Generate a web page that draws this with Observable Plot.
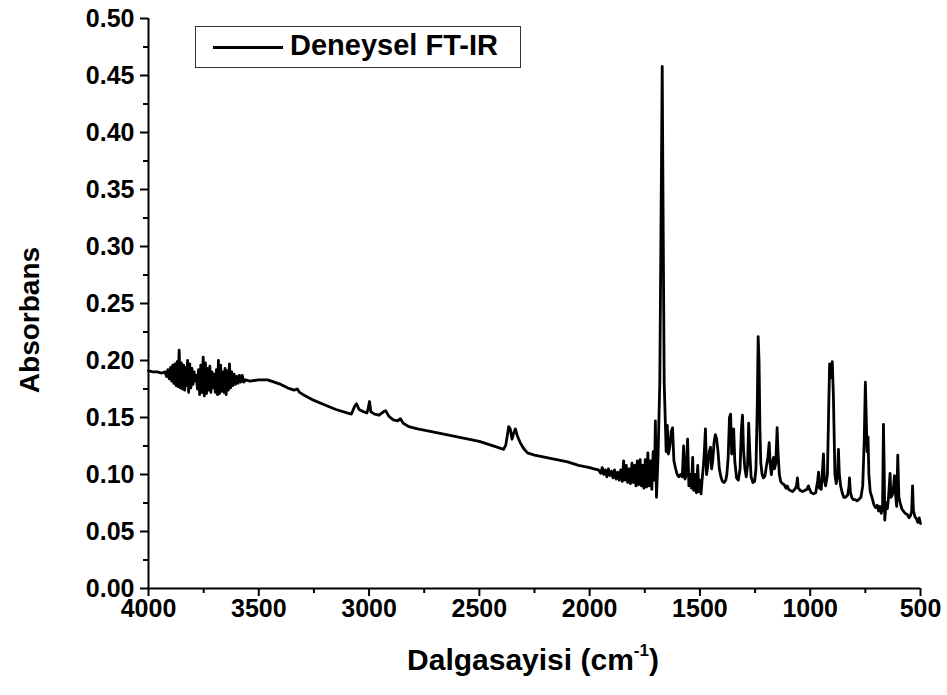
<!DOCTYPE html>
<html><head><meta charset="utf-8">
<script src="https://cdn.jsdelivr.net/npm/d3@7"></script>
<script src="https://cdn.jsdelivr.net/npm/@observablehq/plot@0.6"></script>
<style>
body{margin:0;background:#fff;}
#wrap{position:relative;width:947px;height:695px;font-family:"Liberation Sans",Arial,sans-serif;font-weight:bold;color:#000;}
#wrap svg{position:absolute;left:0;top:0;}
.xtitle{position:absolute;left:0;width:1066px;top:643px;text-align:center;font-size:30px;white-space:nowrap;}
.xtitle sup{font-size:17px;position:relative;top:-3px;}
.ytitle{position:absolute;left:30px;top:320px;font-size:28px;transform:translate(-50%,-50%) rotate(-90deg);white-space:nowrap;}
.legend{position:absolute;left:195px;top:26px;width:326px;height:42px;border:1.5px solid #333;box-sizing:border-box;}
.legend .ln{position:absolute;left:17px;top:19px;width:70px;height:0;border-top:3px solid #000;}
.legend .lt{position:absolute;left:94px;top:2px;font-size:29px;white-space:nowrap;}
</style></head><body><div id="wrap"></div>
<script>
// Tick values
const yTicks = [0, 0.05, 0.10, 0.15, 0.20, 0.25, 0.30, 0.35, 0.40, 0.45, 0.50];
const yMinor = [0.025, 0.075, 0.125, 0.175, 0.225, 0.275, 0.325, 0.375, 0.425, 0.475];
const xTicks = [4000, 3500, 3000, 2500, 2000, 1500, 1000, 500];
const xMinor = [3750, 3250, 2750, 2250, 1750, 1250, 750];

// Spectrum: [wavenumber cm-1, absorbance]
const ohRegion = [
[4000,0.191],[3980,0.190],[3960,0.190],[3940,0.189],[3925,0.190],[3918,0.186],[3912,0.192],[3906,0.184],
[3900,0.194],[3895,0.182],[3890,0.196],[3885,0.180],[3880,0.197],[3875,0.178],[3870,0.199],[3866,0.177],
[3861,0.209],[3856,0.176],[3851,0.198],[3846,0.175],[3841,0.196],[3836,0.174],[3831,0.194],[3827,0.178],
[3823,0.200],[3818,0.172],[3813,0.197],[3808,0.176],[3803,0.193],[3798,0.179],[3793,0.190],[3788,0.182],
[3783,0.187],[3778,0.175],[3773,0.192],[3768,0.170],[3763,0.196],[3758,0.172],[3752,0.203],[3747,0.169],
[3742,0.198],[3737,0.171],[3732,0.193],[3727,0.174],[3722,0.195],[3717,0.172],[3712,0.190],[3707,0.176],
[3702,0.188],[3697,0.172],[3692,0.192],[3687,0.170],[3683,0.200],[3678,0.171],[3673,0.196],[3668,0.173],
[3663,0.190],[3658,0.172],[3653,0.193],[3648,0.170],[3643,0.191],[3638,0.174],[3633,0.197],[3628,0.176],
[3623,0.190],[3618,0.178],[3612,0.188],[3606,0.179],[3600,0.186],[3594,0.180],[3588,0.187],[3582,0.181],
[3575,0.187],[3568,0.181],[3560,0.183],[3540,0.182],[3500,0.183],[3460,0.183],[3430,0.181],[3400,0.179],
[3370,0.176],[3340,0.174],[3325,0.175],[3315,0.172],[3290,0.169],[3250,0.165],[3200,0.161],[3150,0.157]
];
const chRegion = [
[3100,0.154],[3080,0.153],[3065,0.160],[3057,0.162],[3045,0.157],[3025,0.155],[3010,0.154],[3004,0.158],
[2998,0.164],[2992,0.155],[2975,0.153],[2955,0.152],[2935,0.155],[2925,0.156],[2910,0.151],[2890,0.148],
[2870,0.147],[2858,0.149],[2845,0.145],[2820,0.142],[2780,0.140],[2700,0.137],[2600,0.133],[2500,0.129],
[2420,0.124],[2390,0.122],[2380,0.126],[2367,0.142],[2360,0.140],[2352,0.131],[2345,0.136],[2337,0.140],
[2328,0.134],[2315,0.128],[2300,0.123],[2282,0.119],[2250,0.117],[2200,0.115],[2150,0.113],[2100,0.111],
[2050,0.108],[2000,0.106],[1980,0.105],[1960,0.104],[1950,0.101],[1943,0.106],[1936,0.100],[1929,0.104],
[1922,0.098],[1915,0.105],[1908,0.099],[1901,0.103],[1894,0.097],[1887,0.104],[1880,0.096],[1873,0.102],
[1866,0.095],[1859,0.104],[1852,0.094],[1846,0.112],[1840,0.095],[1834,0.108],[1828,0.093],[1822,0.105],
[1815,0.092],[1808,0.110],[1802,0.093],[1796,0.108],[1790,0.090],[1784,0.112],[1778,0.091],[1771,0.113],
[1765,0.090],[1760,0.108],[1754,0.088],[1748,0.113],[1742,0.089],[1736,0.119],[1730,0.090],[1724,0.112],
[1718,0.087],[1712,0.120],[1706,0.095]
];
const carbonylRegion = [
[1702,0.147],[1697,0.080],[1690,0.115],[1682,0.180],[1676,0.330],[1671,0.458],[1666,0.300],[1662,0.180],
[1658,0.154],[1653,0.120],[1648,0.143],[1643,0.118],[1636,0.125],[1630,0.138],[1624,0.141],[1618,0.112],
[1610,0.105],[1603,0.100],[1596,0.098],[1588,0.100],[1580,0.098],[1574,0.125],[1568,0.096],[1562,0.100],
[1556,0.131],[1550,0.090],[1544,0.100],[1538,0.088],[1533,0.115],[1528,0.086],[1522,0.100],[1516,0.084],
[1510,0.108],[1505,0.085],[1500,0.095],[1495,0.083],[1489,0.098],[1484,0.108],[1480,0.120],[1475,0.140],
[1470,0.100],[1464,0.108],[1458,0.120],[1452,0.124],[1447,0.105],[1442,0.112],[1436,0.128],[1430,0.135],
[1424,0.131],[1418,0.120],[1412,0.105],[1405,0.098],[1398,0.094],[1390,0.093],[1383,0.095],[1378,0.100],
[1372,0.115],[1366,0.150],[1361,0.153],[1356,0.118],[1351,0.128],[1347,0.140],[1342,0.112],[1334,0.097],
[1326,0.095],[1318,0.105],[1312,0.140],[1307,0.152],[1302,0.120],[1296,0.105],[1290,0.098],[1284,0.108],
[1279,0.145],[1274,0.120],[1268,0.098],[1260,0.093],[1252,0.094],[1246,0.105],[1240,0.160],[1236,0.221],
[1232,0.200],[1228,0.140],[1224,0.110],[1218,0.100],[1212,0.097],[1205,0.099],[1198,0.108],[1192,0.115],
[1186,0.128],[1182,0.110],[1176,0.100],[1170,0.112],[1166,0.115],[1162,0.105],[1156,0.110],[1150,0.141],
[1146,0.120],[1140,0.100],[1134,0.094],[1126,0.092],[1118,0.091],[1110,0.088],[1104,0.090],[1098,0.087]
];
const fingerprintRegion = [
[1090,0.086],[1080,0.085],[1070,0.087],[1062,0.090],[1058,0.097],[1054,0.088],[1045,0.086],[1035,0.085],
[1025,0.086],[1015,0.087],[1008,0.090],[1003,0.087],[995,0.084],[985,0.083],[975,0.084],[966,0.095],
[962,0.102],[958,0.088],[950,0.087],[944,0.105],[940,0.118],[936,0.095],[930,0.090],[922,0.100],
[916,0.160],[912,0.197],[906,0.185],[900,0.199],[895,0.170],[888,0.100],[882,0.092],[876,0.100],
[872,0.122],[868,0.100],[862,0.090],[855,0.084],[848,0.080],[840,0.080],[830,0.082],[824,0.090],
[822,0.097],[818,0.085],[812,0.080],[804,0.078],[796,0.078],[788,0.077],[780,0.078],[770,0.080],
[762,0.090],[755,0.130],[750,0.181],[746,0.150],[742,0.120],[738,0.133],[734,0.100],[728,0.085],
[720,0.080],[712,0.074],[704,0.071],[696,0.073],[690,0.068],[684,0.072],[678,0.066],[672,0.070],
[668,0.144],[665,0.110],[662,0.060],[656,0.075],[650,0.070],[645,0.080],[638,0.101],[634,0.080],
[628,0.082],[624,0.085],[618,0.099],[614,0.085],[608,0.072],[603,0.117],[598,0.080],[592,0.075],
[585,0.070],[578,0.068],[570,0.066],[560,0.065],[552,0.062],[545,0.064],[540,0.068],[536,0.090],
[532,0.068],[525,0.063],[518,0.061],[512,0.058],[506,0.062],[500,0.057]
];

const spectrum = [...ohRegion, ...chRegion, ...carbonylRegion, ...fingerprintRegion]
  .map(([w, a]) => ({w, a}));

const font = '"Liberation Sans", Arial, sans-serif';
const chart = Plot.plot({
  width: 947, height: 695,
  marginLeft: 148, marginRight: 27, marginTop: 18, marginBottom: 107,
  x: {domain: [4000, 500]},
  y: {domain: [0, 0.5]},
  style: {fontFamily: font, fontSize: "25px", fontWeight: "bold", color: "#000", background: "#fff"},
  marks: [
    Plot.axisY({ticks: yTicks, tickSize: 8, tickPadding: 6, tickFormat: d3.format(".2f"), label: null, strokeWidth: 2}),
    Plot.axisY({ticks: yMinor, tickSize: 5, tickFormat: () => "", label: null, strokeWidth: 2}),
    Plot.axisX({ticks: xTicks, tickSize: 8, tickPadding: 3, tickFormat: d => String(d), label: null, strokeWidth: 2}),
    Plot.axisX({ticks: xMinor, tickSize: 5, tickFormat: () => "", label: null, strokeWidth: 2}),
    Plot.ruleX([4000], {strokeWidth: 2}),
    Plot.ruleY([0], {strokeWidth: 2}),
    Plot.line(spectrum, {x: "w", y: "a", stroke: "#000", strokeWidth: 2.8, strokeLinejoin: "round"})
  ]
});
const wrap = document.getElementById("wrap");
wrap.appendChild(chart);
wrap.insertAdjacentHTML("beforeend",
  '<div class="ytitle">Absorbans</div>' +
  '<div class="xtitle">Dalgasayisi (cm<sup>-1</sup>)</div>' +
  '<div class="legend"><div class="ln"></div><div class="lt">Deneysel FT-IR</div></div>');
</script>
</body></html>
